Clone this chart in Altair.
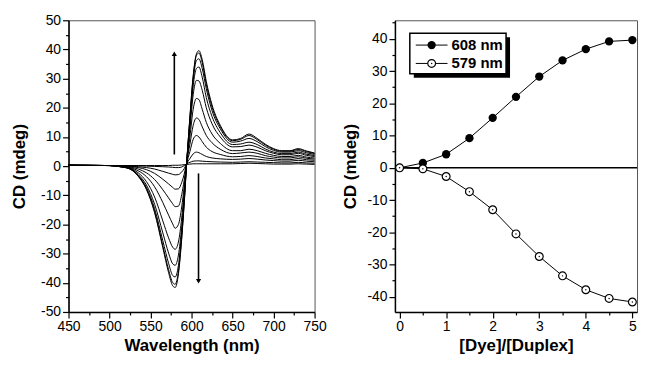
import altair as alt
import pandas as pd

# ---------------- left panel: CD spectra ----------------
wavelength = [450, 500, 515, 525, 535, 545, 555, 565, 572, 577, 580, 584, 588, 591, 594,
              598, 602, 606, 609, 613, 618, 625, 635, 650, 660, 670, 680, 690, 700, 710,
              720, 730, 740, 750]

cd_r00 = [0.3, 0.2, 0.2, 0.2, 0.2, 0.2, 0.2, 0.2, 0.2, 0.3, 0.3, 0.3, 0.4, 0.5, 0.6,
          0.7, 0.8, 0.8, 0.8, 0.8, 0.8, 0.8, 0.8, 0.8, 0.9, 1.0, 0.9, 0.8, 0.7, 0.7,
          0.7, 0.8, 0.7, 0.6]
cd_r05 = [0.3, 0.2, 0.2, 0.1, 0.1, 0.0, -0.1, -0.2, -0.3, -0.4, -0.5, -0.5, -0.3, 0.2, 0.8,
          1.3, 1.7, 1.8, 1.8, 1.7, 1.6, 1.5, 1.4, 1.3, 1.4, 1.5, 1.4, 1.3, 1.2, 1.1,
          1.1, 1.3, 1.1, 1.0]
cd_r10 = [0.3, 0.2, 0.1, 0.0, -0.2, -0.5, -1.0, -1.8, -2.4, -2.8, -3.0, -2.9, -2.0, -0.9, 0.9,
          2.6, 4.2, 4.8, 4.6, 4.0, 3.3, 2.8, 2.5, 2.3, 2.4, 2.6, 2.4, 2.1, 1.9, 1.7,
          1.7, 2.0, 1.7, 1.5]
cd_r15 = [0.3, 0.2, 0.1, -0.1, -0.5, -1.2, -2.5, -4.5, -6.1, -7.3, -7.9, -7.8, -5.6, -2.8, 1.0,
          5.0, 9.2, 10.5, 10.0, 8.4, 6.5, 5.0, 4.0, 3.2, 3.3, 3.6, 3.3, 2.8, 2.5, 2.2,
          2.2, 2.6, 2.2, 2.0]
cd_r20 = [0.3, 0.2, 0.0, -0.3, -1.0, -2.3, -4.6, -8.1, -10.9, -12.9, -13.9, -13.7, -9.8, -4.9, 1.0,
          7.5, 14.0, 16.5, 16.0, 13.5, 10.5, 8.0, 5.8, 4.3, 4.5, 4.8, 4.4, 3.6, 3.1, 2.8,
          2.8, 3.2, 2.7, 2.4]
cd_r25 = [0.3, 0.2, 0.0, -0.5, -1.6, -3.6, -7.1, -12.5, -16.8, -19.8, -21.3, -20.0, -14.0, -7.1, 1.0,
          10.0, 19.5, 23.2, 22.8, 19.5, 15.0, 11.0, 7.8, 5.3, 5.3, 5.8, 5.3, 4.4, 3.7, 3.3,
          3.3, 3.7, 3.1, 2.8]
cd_r30 = [0.3, 0.2, -0.2, -0.7, -2.3, -5.3, -10.6, -18.8, -24.6, -27.8, -28.5, -26.0, -17.8, -9.0, 1.0,
          12.5, 24.5, 29.4, 29.2, 26.0, 20.0, 14.5, 10.0, 6.6, 6.7, 7.2, 6.5, 5.3, 4.4, 3.9,
          3.9, 4.4, 3.7, 3.3]
cd_r35 = [0.3, 0.2, -0.25, -0.8, -2.9, -6.5, -13.1, -22.9, -29.8, -33.5, -34.0, -30.5, -20.8, -10.6, 1.0,
          14.5, 27.5, 33.5, 34.0, 30.5, 23.5, 17.0, 11.5, 7.4, 7.6, 8.2, 7.4, 5.9, 4.8, 4.3,
          4.3, 4.8, 4.1, 3.6]
cd_r40 = [0.3, 0.2, -0.27, -0.9, -3.2, -7.3, -14.6, -25.6, -33.3, -37.5, -38.0, -34.0, -22.8, -11.9, 1.0,
          15.8, 29.5, 36.2, 36.8, 33.5, 26.5, 19.0, 12.8, 8.2, 8.6, 9.5, 8.4, 6.7, 5.4, 4.8,
          4.8, 5.3, 4.6, 4.0]
cd_r45 = [0.3, 0.2, -0.29, -1.0, -3.4, -7.8, -15.6, -27.3, -35.5, -39.9, -40.5, -36.0, -24.3, -12.7, 1.0,
          16.5, 30.5, 38.0, 38.8, 35.5, 28.0, 20.2, 13.5, 8.7, 9.2, 10.5, 9.1, 7.2, 5.8, 5.1,
          5.1, 5.7, 5.0, 4.3]
cd_r50 = [0.3, 0.2, -0.3, -1.0, -3.5, -8.0, -16.0, -28.0, -36.5, -41.0, -41.6, -37.0, -25.0, -13.0, 0.5,
          17.0, 31.0, 38.5, 39.6, 36.5, 29.0, 21.0, 14.0, 9.0, 9.5, 11.0, 9.5, 7.5, 6.0, 5.3,
          5.3, 6.0, 5.2, 4.5]

spectra = [cd_r00, cd_r05, cd_r10, cd_r15, cd_r20, cd_r25, cd_r30, cd_r35, cd_r40, cd_r45, cd_r50]

rows = []
for i, curve in enumerate(spectra):
    for w, v in zip(wavelength, curve):
        rows.append({"curve": i, "wl": w, "cd": v})
spec_df = pd.DataFrame(rows)

# arrows (annotation): x position, tail value, head value
arrow_x = [579, 608.5]
arrow_tail = [4, -2.5]
arrow_head = [38.5, -39.5]
arrow_shape = ["triangle-up", "triangle-down"]
arrow_df = pd.DataFrame({"wl": arrow_x, "cd": arrow_tail, "cd2": arrow_head})
head_df = pd.DataFrame({"wl": arrow_x, "cd": arrow_head, "shape": arrow_shape})

FONT = "Liberation Sans"

xl = alt.X("wl:Q", scale=alt.Scale(domain=[450, 750], nice=False),
           axis=alt.Axis(values=list(range(450, 751, 25)),
                         labelExpr="datum.value % 50 === 0 ? '' + datum.value : ''",
                         tickSize={"condition": {"test": "datum.value % 50 === 0", "value": 6}, "value": 3},
                         labelOverlap=False, labelFlush=False,
                         title="Wavelength (nm)", titlePadding=4))
yl = alt.Y("cd:Q", scale=alt.Scale(domain=[-50, 50], nice=False),
           axis=alt.Axis(values=list(range(-50, 51, 5)),
                         labelExpr="datum.value % 10 === 0 ? '' + datum.value : ''",
                         tickSize={"condition": {"test": "datum.value % 10 === 0", "value": 6}, "value": 3},
                         labelOverlap=False,
                         title="CD (mdeg)", titlePadding=12))

lines_left = alt.Chart(spec_df).mark_line(color="black", strokeWidth=1, interpolate="monotone").encode(
    x=xl, y=yl, detail="curve:N")

arrow_lines = alt.Chart(arrow_df).mark_rule(color="black", strokeWidth=1.6).encode(
    x=xl, y=yl, y2="cd2:Q")
arrow_heads = alt.Chart(head_df).mark_point(filled=True, color="black", size=28, opacity=1).encode(
    x=xl, y=yl, shape=alt.Shape("shape:N", scale=None))

left = alt.layer(lines_left, arrow_lines, arrow_heads).properties(width=248, height=294)

# ---------------- right panel: titration ----------------
ratio = [0, 0.5, 1, 1.5, 2, 2.5, 3, 3.5, 4, 4.5, 5]
cd_608 = [0.0, 1.5, 4.2, 9.2, 15.5, 22.0, 28.3, 33.3, 36.8, 39.2, 39.6]
cd_579 = [0.0, -0.3, -2.7, -7.4, -13.0, -20.5, -27.5, -33.5, -37.8, -40.5, -41.6]

tit_df = pd.DataFrame({"ratio": ratio, "cd608": cd_608, "cd579": cd_579})

xr_scale = alt.Scale(domain=[-0.1, 5.1], nice=False)
yr_scale = alt.Scale(domain=[-44.7, 45.75], nice=False)
xr_axis = alt.Axis(values=[i * 0.5 for i in range(11)],
                   labelExpr="datum.value % 1 === 0 ? '' + datum.value : ''",
                   tickSize={"condition": {"test": "datum.value % 1 === 0", "value": 6}, "value": 3},
                   labelOverlap=False, labelFlush=False,
                   title="[Dye]/[Duplex]", titlePadding=4)
yr_axis = alt.Axis(values=list(range(-40, 46, 5)),
                   labelExpr="datum.value % 10 === 0 ? '' + datum.value : ''",
                   tickSize={"condition": {"test": "datum.value % 10 === 0", "value": 6}, "value": 3},
                   labelOverlap=False,
                   title="CD (mdeg)", titlePadding=8)

xr = alt.X("ratio:Q", scale=xr_scale, axis=xr_axis)
base_r = alt.Chart(tit_df)
zero_rule = alt.Chart(pd.DataFrame({"z": [0]})).mark_rule(color="black", strokeWidth=1.5).encode(
    y=alt.Y("z:Q", scale=yr_scale, axis=yr_axis))

line608 = base_r.mark_line(color="black", strokeWidth=1).encode(
    x=xr, y=alt.Y("cd608:Q", scale=yr_scale, axis=yr_axis))
pts608 = base_r.mark_point(filled=True, color="black", size=70, opacity=1).encode(
    x=xr, y=alt.Y("cd608:Q", scale=yr_scale, axis=yr_axis))
line579 = base_r.mark_line(color="black", strokeWidth=1).encode(
    x=xr, y=alt.Y("cd579:Q", scale=yr_scale, axis=yr_axis))
pts579 = base_r.mark_point(filled=True, fill="white", stroke="black", strokeWidth=1.2,
                           size=62, opacity=1).encode(
    x=xr, y=alt.Y("cd579:Q", scale=yr_scale, axis=yr_axis))
dots579 = base_r.mark_point(filled=True, color="black", size=2, opacity=1).encode(
    x=xr, y=alt.Y("cd579:Q", scale=yr_scale, axis=yr_axis))

one = alt.Data(values=[{}])
leg_shadow = alt.Chart(one).mark_rect(color="black").encode(
    x=alt.value(19), x2=alt.value(116), y=alt.value(17), y2=alt.value(58))
leg_box = alt.Chart(one).mark_rect(fill="white", stroke="black", strokeWidth=1.5).encode(
    x=alt.value(15), x2=alt.value(112), y=alt.value(13), y2=alt.value(54))
leg_line1 = alt.Chart(one).mark_rule(color="black", strokeWidth=1).encode(
    x=alt.value(21), x2=alt.value(53), y=alt.value(25))
leg_line2 = alt.Chart(one).mark_rule(color="black", strokeWidth=1).encode(
    x=alt.value(21), x2=alt.value(53), y=alt.value(43.5))
leg_pt1 = alt.Chart(one).mark_point(filled=True, color="black", size=70, opacity=1).encode(
    x=alt.value(37), y=alt.value(25))
leg_pt2 = alt.Chart(one).mark_point(filled=True, fill="white", stroke="black", strokeWidth=1.2,
                                     size=62, opacity=1).encode(x=alt.value(37), y=alt.value(43.5))
leg_dot2 = alt.Chart(one).mark_point(filled=True, color="black", size=2, opacity=1).encode(
    x=alt.value(37), y=alt.value(43.5))
leg_txt1 = alt.Chart(one).mark_text(align="left", baseline="middle", font=FONT, fontSize=15,
                                     fontWeight="bold", color="black").encode(
    x=alt.value(57), y=alt.value(25), text=alt.value("608 nm"))
leg_txt2 = alt.Chart(one).mark_text(align="left", baseline="middle", font=FONT, fontSize=15,
                                     fontWeight="bold", color="black").encode(
    x=alt.value(57), y=alt.value(43.5), text=alt.value("579 nm"))

right = alt.layer(zero_rule, line608, line579, pts608, pts579, dots579,
                  leg_shadow, leg_box, leg_line1, leg_line2, leg_pt1, leg_pt2, leg_dot2,
                  leg_txt1, leg_txt2).properties(width=244, height=294)

chart = alt.hconcat(left, right, spacing=13).properties(
    padding={"left": 2, "top": 3, "right": 0, "bottom": 0}
).configure_view(stroke="#555", strokeWidth=1).configure_axis(
    domainColor="black", domainWidth=1.5, tickColor="black", tickWidth=1.2,
    labelFont=FONT, titleFont=FONT, labelFontSize=14, titleFontSize=17,
    titleFontWeight="bold", labelColor="black", titleColor="black", grid=False,
    labelPadding=2, labelOverlap=False
)

chart.save("out.html", embed_options={"renderer": "svg", "actions": False})
